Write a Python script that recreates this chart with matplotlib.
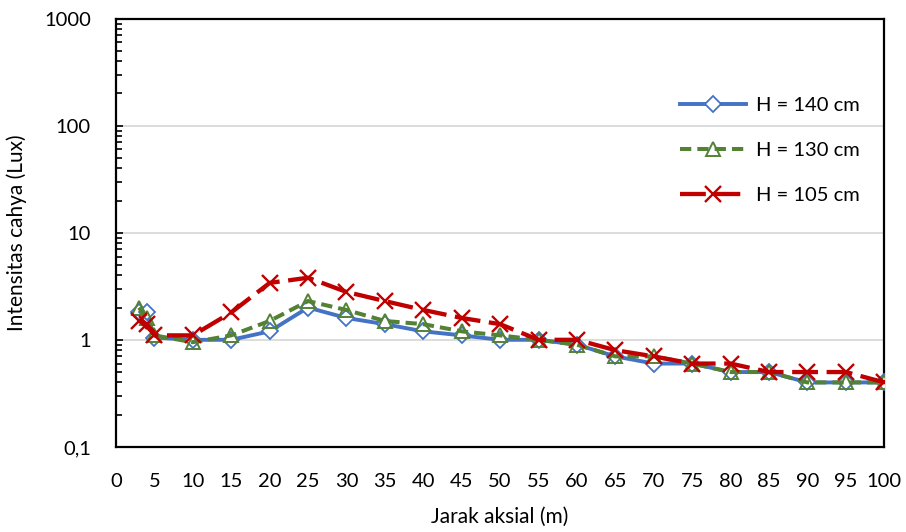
import matplotlib.pyplot as plt
import matplotlib.ticker as ticker
import numpy as np

jarak = [3, 4, 5, 10, 15, 20, 25, 30, 35, 40, 45, 50, 55, 60, 65, 70, 75, 80, 85, 90, 95, 100]
h140 = [1.8, 1.8, 1.05, 1.0, 1.0, 1.2, 2.0, 1.6, 1.4, 1.2, 1.1, 1.0, 1.0, 0.9, 0.7, 0.6, 0.6, 0.5, 0.5, 0.4, 0.4, 0.4]
h130 = [2.0, 1.6, 1.1, 0.95, 1.1, 1.5, 2.3, 1.9, 1.5, 1.4, 1.2, 1.1, 1.0, 0.9, 0.7, 0.7, 0.6, 0.5, 0.5, 0.4, 0.4, 0.4]
h105 = [1.5, 1.4, 1.1, 1.1, 1.8, 3.4, 3.8, 2.8, 2.3, 1.9, 1.6, 1.4, 1.0, 1.0, 0.8, 0.7, 0.6, 0.6, 0.5, 0.5, 0.5, 0.4]
labels = ['H = 140 cm', 'H = 130 cm', 'H = 105 cm']

plt.rcParams['font.family'] = ['Lato', 'DejaVu Sans']

fig = plt.figure(figsize=(9.06, 5.32), dpi=100)
ax = fig.add_axes([0.128, 0.160, 0.848, 0.805])

ax.plot(jarak, h140, color='#4472C4', lw=2.8, marker='D', ms=8,
        mfc='white', mec='#4472C4', mew=1.3, label=labels[0], zorder=3)
l2, = ax.plot(jarak, h130, color='#548235', lw=2.9, ls='--', marker='^', ms=10,
              mfc='none', mec='#548235', mew=1.4, label=labels[1], zorder=4)
l2.set_dashes((2.8, 1.5))
l3, = ax.plot(jarak, h105, color='#C00000', lw=3.1, ls='--', marker='x', ms=12,
              mec='#C00000', mew=1.7, label=labels[2], zorder=5)
l3.set_dashes((6.0, 2.0))

ax.set_yscale('log')
ax.set_ylim(0.1, 1000)
ax.set_xlim(0, 100)
ax.set_xticks(np.arange(0, 101, 5))
ax.set_yticks([0.1, 1, 10, 100, 1000])
ax.set_yticklabels(['0,1', '1', '10', '100', '1000'])
ax.yaxis.set_minor_locator(ticker.LogLocator(base=10, subs=np.arange(2, 10)))
ax.yaxis.set_minor_formatter(ticker.NullFormatter())

ax.tick_params(axis='x', length=0, labelsize=14.5, pad=19)
ax.tick_params(axis='y', which='major', direction='in', length=5, width=1.2, labelsize=14.5, pad=18)
ax.tick_params(axis='y', which='minor', direction='in', length=4, width=1.2)

ax.grid(axis='y', which='major', color='#D9D9D9', lw=1.3)
ax.set_axisbelow(True)
for s in ax.spines.values():
    s.set_color('black')
    s.set_linewidth(1.6)

ax.set_xlabel('Jarak aksial (m)', fontsize=15, labelpad=12)
ax.set_ylabel('Intensitas cahya (Lux)', fontsize=15, labelpad=12)

leg = ax.legend(loc='upper left', bbox_to_anchor=(0.71, 0.86), frameon=False,
                fontsize=14.5, handlelength=3.3, labelspacing=1.38, handletextpad=0.5)

fig.savefig('out.png', dpi=100)
